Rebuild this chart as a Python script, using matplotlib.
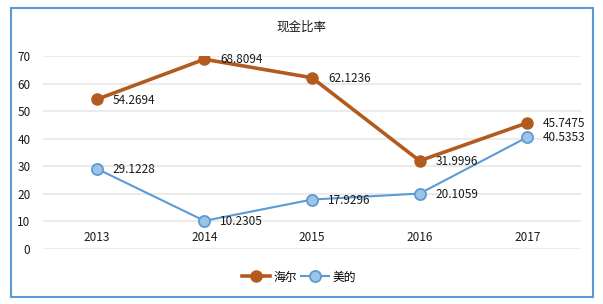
import matplotlib
matplotlib.use('Agg')
import matplotlib.pyplot as plt
from matplotlib.patches import Rectangle

plt.rcParams['font.family'] = ['Noto Sans CJK SC', 'DejaVu Sans']

years = ['2013', '2014', '2015', '2016', '2017']
haier = [54.2694, 68.8094, 62.1236, 31.9996, 45.7475]
midea = [29.1228, 10.2305, 17.9296, 20.1059, 40.5353]
yticks = [0, 10, 20, 30, 40, 50, 60, 70]

orange = '#B35A1F'
blue = '#5B9BD5'
blue_fill = '#9DC3E6'

fig = plt.figure(figsize=(6.03, 3.04), dpi=100)
fig.patches.append(Rectangle((11/603, 1-297/304), 582/603, 289/304, transform=fig.transFigure,
                             fill=False, edgecolor=blue, linewidth=1.5))

ax = fig.add_axes([43/603, 1-249/304, 538/603, 193/304])
x = list(range(len(years)))
ax.set_xlim(-0.5, len(years) - 0.5)
ax.set_ylim(0, 70)

for v in yticks:
    ax.axhline(v, color='#EBEBEB', linewidth=1.5, zorder=0)

ax.plot(x, haier, color=orange, linewidth=2.6, marker='o', markersize=8,
        markerfacecolor=orange, markeredgecolor=orange, label='海尔', zorder=3)
ax.plot(x, midea, color=blue, linewidth=1.5, marker='o', markersize=8,
        markerfacecolor=blue_fill, markeredgecolor=blue, markeredgewidth=1.3, label='美的', zorder=3)

for xi, v in zip(x, haier):
    ax.annotate(f'{v:g}', (xi, v), xytext=(11.5, -0.5), textcoords='offset points',
                ha='left', va='center', fontsize=8.5, color='#1a1a1a')
for xi, v in zip(x, midea):
    ax.annotate(f'{v:g}', (xi, v), xytext=(11.5, -0.5), textcoords='offset points',
                ha='left', va='center', fontsize=8.5, color='#1a1a1a')

# category labels sit just above the 0 line
for xi, y in zip(x, years):
    ax.text(xi, 4, y, ha='center', va='center', fontsize=8.5, color='#1a1a1a')

ax.set_xticks([])
ax.set_yticks(yticks)
ax.set_yticklabels([str(v) for v in yticks], fontsize=8.5, color='#1a1a1a')
ax.tick_params(axis='y', length=0, pad=9)
for s in ax.spines.values():
    s.set_visible(False)

fig.text(301/603, 1-27/304, '现金比率', ha='center', va='center', fontsize=9, color='#1a1a1a')

fig.legend(loc='center', bbox_to_anchor=(299/603, 1-277/304), ncol=2, frameon=False,
           fontsize=8.5, handlelength=2.4, columnspacing=0.3, handletextpad=0.3)

fig.savefig('out.png', dpi=100)
